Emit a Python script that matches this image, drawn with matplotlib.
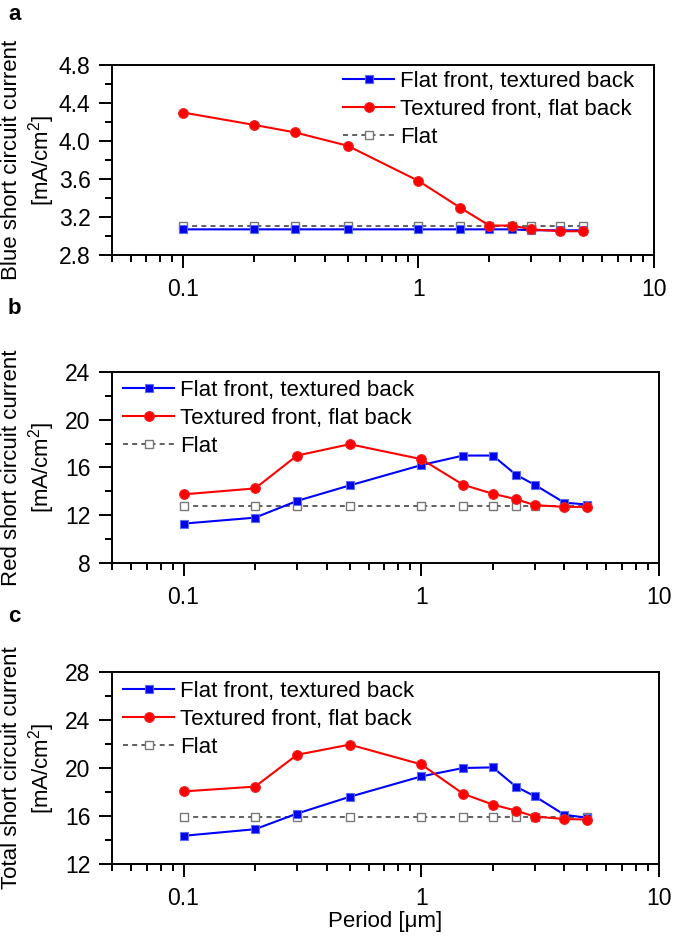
import matplotlib
matplotlib.use("Agg")
import matplotlib.pyplot as plt
from matplotlib.ticker import FixedLocator, NullFormatter, LogLocator

plt.rcParams['font.family'] = ['Liberation Sans', 'DejaVu Sans']
plt.rcParams['mathtext.fontset'] = 'custom'
plt.rcParams['mathtext.rm'] = 'Liberation Sans'
plt.rcParams['mathtext.it'] = 'Liberation Sans:italic'

period = [0.1, 0.2, 0.3, 0.5, 1, 1.5, 2, 2.5, 3, 4, 5]

blue_flat_front = [3.07, 3.07, 3.07, 3.07, 3.07, 3.07, 3.07, 3.07, 3.06, 3.06, 3.06]
blue_textured_front = [4.30, 4.17, 4.09, 3.95, 3.58, 3.30, 3.11, 3.11, 3.07, 3.05, 3.05]
blue_flat = [3.10] * 11

red_flat_front = [11.3, 11.8, 13.2, 14.5, 16.2, 17.0, 17.0, 15.4, 14.55, 13.05, 12.9]
red_textured_front = [13.75, 14.25, 17.0, 17.95, 16.7, 14.55, 13.8, 13.35, 12.85, 12.7, 12.7]
red_flat = [12.8] * 11

tot_flat_front = [14.35, 14.9, 16.2, 17.6, 19.3, 20.0, 20.05, 18.45, 17.65, 16.1, 15.85]
tot_textured_front = [18.05, 18.45, 21.1, 21.95, 20.3, 17.85, 16.95, 16.45, 15.95, 15.75, 15.7]
tot_flat = [15.9] * 11

labels = ["Flat front, textured back", "Textured front, flat back", "Flat"]
ylabel_line1 = ["Blue short circuit current", "Red short circuit current",
                "Total short circuit current"]
ylabel_line2 = "[mA/cm$^2$]"
panel_letters = ["a", "b", "c"]
yticks = [[2.8, 3.2, 3.6, 4.0, 4.4, 4.8], [8, 12, 16, 20, 24], [12, 16, 20, 24, 28]]
yticklabels = [["2.8", "3.2", "3.6", "4.0", "4.4", "4.8"],
               ["8", "12", "16", "20", "24"], ["12", "16", "20", "24", "28"]]
yminor = [0.2, 2, 2]
xticks = [0.1, 1, 10]
xticklabels = ["0.1", "1", "10"]

data = [(blue_flat_front, blue_textured_front, blue_flat),
        (red_flat_front, red_textured_front, red_flat),
        (tot_flat_front, tot_textured_front, tot_flat)]

W, H = 675, 936
fig = plt.figure(figsize=(6.75, 9.36), dpi=100)
boxes = [(112, 654, 65, 255), (112, 659, 372, 563), (112, 659, 672, 864)]
legend_anchor = [(343, 71), (123, 380), (123, 681)]
letter_y = [14, 308, 617]

for i in range(3):
    l, r, t, b = boxes[i]
    ax = fig.add_axes([l / W, 1 - b / H, (r - l) / W, (b - t) / H])
    ff, tf, fl = data[i]
    ax.plot(period, fl, ls=(0, (3, 2.5)), color='#444444', lw=1.2, marker='s',
            mfc='white', mec='#777777', ms=6, mew=1.0, label=labels[2], zorder=2)
    ax.plot(period, ff, color='#0000ff', lw=1.5, marker='s', ms=6,
            mfc='#0000ee', mec='#5a6cf0', mew=0.8, label=labels[0], zorder=3)
    ax.plot(period, tf, color='#ff0000', lw=1.5, marker='o', ms=7,
            mfc='#ff0000', mec='#ee2222', mew=0.8, label=labels[1], zorder=4)
    ax.set_xscale('log')
    ax.set_xlim(0.05, 10)
    ax.set_ylim(yticks[i][0], yticks[i][-1])
    ax.xaxis.set_major_locator(FixedLocator(xticks))
    ax.set_xticklabels(xticklabels)
    ax.xaxis.set_minor_locator(LogLocator(base=10, subs=range(2, 10), numticks=20))
    ax.xaxis.set_minor_formatter(NullFormatter())
    ax.set_yticks(yticks[i])
    ax.set_yticklabels(yticklabels[i])
    y0, y1 = yticks[i][0], yticks[i][-1]
    step = yminor[i]
    n = int(round((y1 - y0) / step))
    ax.yaxis.set_minor_locator(FixedLocator([y0 + k * step for k in range(n + 1)]))
    ax.tick_params(which='major', direction='out', length=9.4, width=1.4,
                   labelsize=16.5, top=False, right=False, pad=6)
    ax.tick_params(axis='x', which='major', pad=7)
    ax.tick_params(which='minor', direction='out', length=5, width=1.4,
                   top=False, right=False)
    for s in ax.spines.values():
        s.set_linewidth(1.4)
    yc = 1 - (t + b) / 2 / H
    fig.text(12 / W, yc, ylabel_line1[i], rotation=90, fontsize=16,
             ha='center', va='center')
    fig.text(42 / W, yc, ylabel_line2, rotation=90, fontsize=16,
             ha='center', va='center')
    h, lab = ax.get_legend_handles_labels()
    order = [1, 2, 0]
    ax_x, ax_y = legend_anchor[i]
    ax.legend([h[k] for k in order], [lab[k] for k in order],
              loc='upper left',
              bbox_to_anchor=((ax_x - l) / (r - l), (b - ax_y) / (b - t)),
              frameon=False, fontsize=16, handlelength=2.3, handletextpad=0.27,
              labelspacing=0.31, borderaxespad=0.0, borderpad=0.0)
    fig.text(8 / W, 1 - letter_y[i] / H, panel_letters[i], fontsize=16,
             fontweight='bold', va='center', ha='left')
    if i == 2:
        ax.set_xlabel("Period [μm]", fontsize=16, labelpad=1)

fig.savefig("out.png", dpi=100)
